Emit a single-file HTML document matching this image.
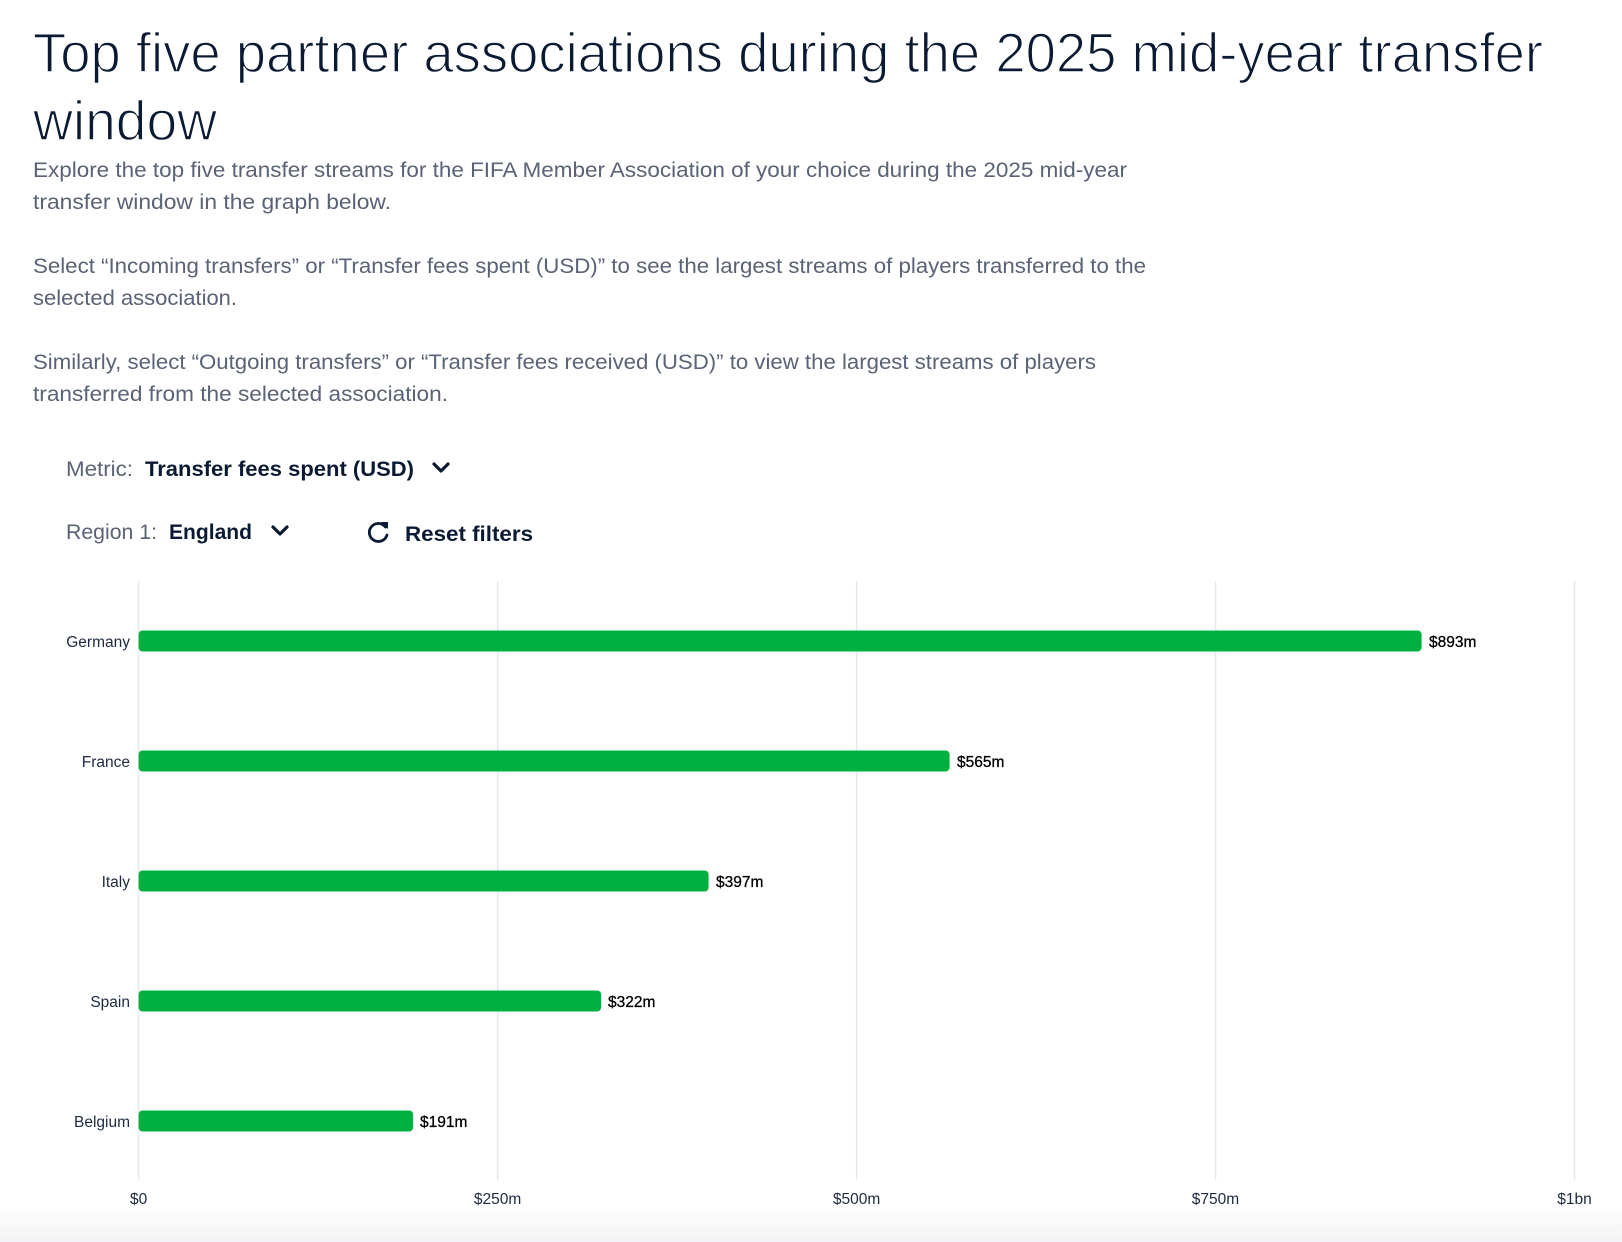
<!DOCTYPE html>
<html><head><meta charset="utf-8"><style>
html,body{margin:0;padding:0;background:#fff;}
svg{display:block;}
</style></head><body>
<svg width="1622" height="1242" viewBox="0 0 1622 1242" xmlns="http://www.w3.org/2000/svg" font-family="Liberation Sans, sans-serif">
<defs><linearGradient id="bg" x1="0" y1="0" x2="0" y2="1"><stop offset="0" stop-color="#fff"/><stop offset="1" stop-color="#f3f3f5"/></linearGradient></defs>
<rect x="0" y="1205" width="1622" height="37" fill="url(#bg)"/>
<g fill="#0b1a33" font-size="56" stroke="#fff" stroke-width="1.4" paint-order="fill">
<text x="33" y="72" textLength="1510" lengthAdjust="spacingAndGlyphs">Top five partner associations during the 2025 mid-year transfer</text>
<text x="33" y="140" textLength="184" lengthAdjust="spacingAndGlyphs">window</text>
</g>
<g fill="#5a6275" font-size="21">
<text x="33" y="177" textLength="1094" lengthAdjust="spacingAndGlyphs">Explore the top five transfer streams for the FIFA Member Association of your choice during the 2025 mid-year</text>
<text x="33" y="209" textLength="358" lengthAdjust="spacingAndGlyphs">transfer window in the graph below.</text>
<text x="33" y="273" textLength="1113" lengthAdjust="spacingAndGlyphs">Select “Incoming transfers” or “Transfer fees spent (USD)” to see the largest streams of players transferred to the</text>
<text x="33" y="305" textLength="204" lengthAdjust="spacingAndGlyphs">selected association.</text>
<text x="33" y="369" textLength="1063" lengthAdjust="spacingAndGlyphs">Similarly, select “Outgoing transfers” or “Transfer fees received (USD)” to view the largest streams of players</text>
<text x="33" y="401" textLength="415" lengthAdjust="spacingAndGlyphs">transferred from the selected association.</text>
</g>
<text x="66" y="476" font-size="21" fill="#5a6275" textLength="67" lengthAdjust="spacingAndGlyphs">Metric:</text>
<text x="145" y="476" font-size="21" font-weight="bold" fill="#0b1a33" textLength="269" lengthAdjust="spacingAndGlyphs">Transfer fees spent (USD)</text>
<path d="M434 464 L441 471 L448 464" fill="none" stroke="#0b1a33" stroke-width="3.2" stroke-linecap="round" stroke-linejoin="round"/>
<text x="66" y="539" font-size="21" fill="#5a6275" textLength="91" lengthAdjust="spacingAndGlyphs">Region 1:</text>
<text x="169" y="539" font-size="21" font-weight="bold" fill="#0b1a33" textLength="83" lengthAdjust="spacingAndGlyphs">England</text>
<path d="M273 527 L280 534 L287 527" fill="none" stroke="#0b1a33" stroke-width="3.2" stroke-linecap="round" stroke-linejoin="round"/>
<path d="M385.5 527 A9 9 0 1 0 387 535" fill="none" stroke="#0b1a33" stroke-width="2.8" stroke-linecap="round"/>
<path d="M381 522 L388 522 L388 529 Z" fill="#0b1a33"/>
<text x="405" y="541" font-size="21" font-weight="bold" fill="#0b1a33" textLength="128" lengthAdjust="spacingAndGlyphs">Reset filters</text>
<g stroke="#e6e8ef" stroke-width="1.5">
<line x1="138.6" y1="581" x2="138.6" y2="1180"/>
<line x1="497.6" y1="581" x2="497.6" y2="1180"/>
<line x1="856.6" y1="581" x2="856.6" y2="1180"/>
<line x1="1215.5" y1="581" x2="1215.5" y2="1180"/>
<line x1="1574.5" y1="581" x2="1574.5" y2="1180"/>
</g>
<g fill="#00b140">
<rect x="138.6" y="630.5" width="1283" height="21" rx="4"/>
<rect x="138.6" y="750.5" width="811" height="21" rx="4"/>
<rect x="138.6" y="870.5" width="570" height="21" rx="4"/>
<rect x="138.6" y="990.5" width="462.5" height="21" rx="4"/>
<rect x="138.6" y="1110.5" width="274.5" height="21" rx="4"/>
</g>
<g font-size="15.5" fill="#1e2a40" text-anchor="end">
<text x="130" y="647">Germany</text>
<text x="130" y="767">France</text>
<text x="130" y="887">Italy</text>
<text x="130" y="1007">Spain</text>
<text x="130" y="1127">Belgium</text>
</g>
<g font-size="15.5" fill="#000" stroke="#000" stroke-width="0.3">
<text x="1429" y="647">$893m</text>
<text x="957" y="767">$565m</text>
<text x="716" y="887">$397m</text>
<text x="608" y="1007">$322m</text>
<text x="420" y="1127">$191m</text>
</g>
<g font-size="15.5" fill="#1e2a40" text-anchor="middle">
<text x="138.6" y="1204">$0</text>
<text x="497.6" y="1204">$250m</text>
<text x="856.6" y="1204">$500m</text>
<text x="1215.5" y="1204">$750m</text>
<text x="1574.5" y="1204">$1bn</text>
</g>
</svg>
</body></html>
